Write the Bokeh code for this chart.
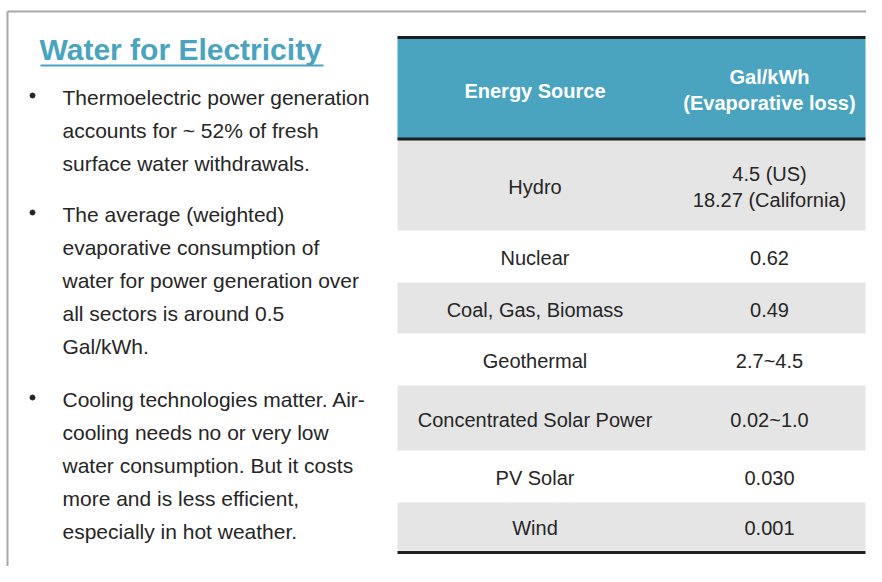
from bokeh.plotting import figure
from bokeh.models import Range1d
from bokeh.core.properties import value
from bokeh.embed import file_html
from bokeh.resources import INLINE

# ---------------- data ----------------
title = "Water for Electricity"
bullets = [
    ["Thermoelectric power generation",
     "accounts for ~ 52% of fresh",
     "surface water withdrawals."],
    ["The average (weighted)",
     "evaporative consumption of",
     "water for power generation over",
     "all sectors is around 0.5",
     "Gal/kWh."],
    ["Cooling technologies matter. Air-",
     "cooling needs no or very low",
     "water consumption. But it costs",
     "more and is less efficient,",
     "especially in hot weather."],
]
header_source = "Energy Source"
header_value = ["Gal/kWh", "(Evaporative loss)"]
sources = ["Hydro", "Nuclear", "Coal, Gas, Biomass", "Geothermal",
           "Concentrated Solar Power", "PV Solar", "Wind"]
gal_per_kwh = [["4.5 (US)", "18.27 (California)"], ["0.62"], ["0.49"],
               ["2.7~4.5"], ["0.02~1.0"], ["0.030"], ["0.001"]]

# ---------------- layout / style ----------------
W, H = 866, 566
FONT = "Liberation Sans"
TEAL = "#4aa4c0"
TEXT = "#262626"
GRAY = "#e5e5e5"
DARK = "#1e1e1e"

tbl_x0, tbl_x1 = 397, 865
col1_x, col2_x = 534.5, 769
hdr_top, hdr_bot = 38, 138
row_edges = [139, 230, 282, 333, 385, 450, 502, 550]
line_gap_tbl = 26
hdr_gap = 26

para_starts = [97, 214, 399]
line_gap = 33
bullet_x, text_x = 32, 62

p = figure(width=W, height=H, x_range=Range1d(0, W), y_range=Range1d(H, 0),
           output_backend="svg", toolbar_location=None, min_border=0,
           x_axis_location=None, y_axis_location=None,
           outline_line_color=None, background_fill_color="white",
           border_fill_color="white")
p.xgrid.grid_line_color = None
p.ygrid.grid_line_color = None

# slide frame lines
p.segment(x0=[7, 7], y0=[11, 11], x1=[W + 20, 7], y1=[11, H + 20],
          line_color="#a8a8a8", line_width=2)

# title
p.text(x=[39], y=[48.5], text=[title], text_font=value(FONT), text_font_style="bold",
       text_font_size="30px", text_color=TEAL, text_baseline="middle", text_align="left")
p.segment(x0=[40], y0=[65], x1=[323], y1=[65], line_color=TEAL, line_width=2)

# bullets
bx, by, tx, ty, tt = [], [], [], [], []
for start, para in zip(para_starts, bullets):
    bx.append(bullet_x)
    by.append(start - 2)
    for i, line in enumerate(para):
        tx.append(text_x)
        ty.append(start + i * line_gap)
        tt.append(line)
p.scatter(x=bx, y=by, size=5, marker="circle", color=TEXT)
p.text(x=tx, y=ty, text=tt, text_font=value(FONT), text_font_size="21px",
       text_color=TEXT, text_baseline="middle", text_align="left")

# table header
p.quad(left=[tbl_x0], right=[tbl_x1], top=[hdr_top], bottom=[hdr_bot], color=TEAL, line_color=None)
p.text(x=[col1_x], y=[90], text=[header_source], text_font=value(FONT),
       text_font_style="bold", text_font_size="20px", text_color="white",
       text_baseline="middle", text_align="center")
hc = 89.5
p.text(x=[col2_x] * 2, y=[hc - hdr_gap / 2, hc + hdr_gap / 2], text=header_value,
       text_font=value(FONT), text_font_style="bold", text_font_size="20px",
       text_color="white", text_baseline="middle", text_align="center")

# table rows
lefts, rights, tops, bots = [], [], [], []
for i in range(len(sources)):
    if i % 2 == 0:
        lefts.append(tbl_x0); rights.append(tbl_x1)
        tops.append(row_edges[i]); bots.append(row_edges[i + 1])
p.quad(left=lefts, right=rights, top=tops, bottom=bots, color=GRAY, line_color=None)

sx, sy, st, vx, vy, vt = [], [], [], [], [], []
for i, (s, v) in enumerate(zip(sources, gal_per_kwh)):
    c = (row_edges[i] + row_edges[i + 1]) / 2 + 1.5
    sx.append(col1_x); sy.append(c); st.append(s)
    n = len(v)
    for j, line in enumerate(v):
        vx.append(col2_x)
        vy.append(c + (j - (n - 1) / 2) * line_gap_tbl)
        vt.append(line)
p.text(x=sx, y=sy, text=st, text_font=value(FONT), text_font_size="20px",
       text_color=TEXT, text_baseline="middle", text_align="center")
p.text(x=vx, y=vy, text=vt, text_font=value(FONT), text_font_size="20px",
       text_color=TEXT, text_baseline="middle", text_align="center")

# table rules
p.segment(x0=[tbl_x0] * 3, x1=[tbl_x1] * 3, y0=[hdr_top - 1, hdr_bot + 0.5, row_edges[-1] + 2],
          y1=[hdr_top - 1, hdr_bot + 0.5, row_edges[-1] + 2], line_color=DARK, line_width=3)

open("out.html", "w").write(file_html(p, INLINE))
